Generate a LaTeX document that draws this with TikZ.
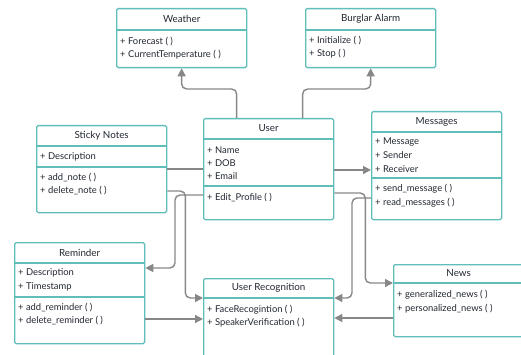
\documentclass[tikz,border=0pt]{standalone}
\usepackage{fontspec}
\setmainfont{Lato}
\usetikzlibrary{arrows.meta}
\definecolor{boxline}{RGB}{96,190,186}
\definecolor{wire}{RGB}{135,135,135}
\definecolor{ink}{RGB}{35,40,50}

\begin{document}
\begin{tikzpicture}[x=1pt,y=-1pt,
    cls/.style={draw=boxline, line width=1.3pt, rounded corners=1.5pt, fill=white, minimum width=130pt, anchor=north west, inner sep=0pt},
    sep/.style={draw=boxline, line width=1.3pt},
    ttl/.style={text=ink, inner sep=0pt, font=\fontsize{9.8}{11}\selectfont},
    mem/.style={anchor=west, inner sep=0pt, text=ink, font=\fontsize{9.4}{11}\selectfont},
    conn/.style={draw=wire, line width=1.4pt, rounded corners=5pt, -{Triangle[length=8pt,width=8pt]}},
    link/.style={draw=wire, line width=1.4pt}]
    \clip (0,0) rectangle (521,355);

    % classes
    \node[cls, minimum height=59pt] (weather) at (116,8) {};
    \node[ttl] (weathert) at ([yshift=-11pt]weather.north) {Weather};
    \draw[sep] ([yshift=-22pt]weather.north west) -- ([yshift=-22pt]weather.north east);
    \node[mem] (wfore) at (120,42) {+ Forecast ( )};
    \node[mem] (wtemp) at (120,55) {+ CurrentTemperature ( )};

    \node[cls, minimum height=59pt] (alarm) at (305,8) {};
    \node[ttl] (alarmt) at ([yshift=-11pt]alarm.north) {Burglar Alarm};
    \draw[sep] ([yshift=-22pt]alarm.north west) -- ([yshift=-22pt]alarm.north east);
    \node[mem] (ainit) at (309,41) {+ Initialize ( )};
    \node[mem] (astop) at (309,54) {+ Stop ( )};

    \node[cls, minimum height=87pt] (sticky) at (36,125) {};
    \node[ttl] (stickyt) at ([yshift=-10.5pt]sticky.north) {Sticky Notes};
    \draw[sep] ([yshift=-21pt]sticky.north west) -- ([yshift=-21pt]sticky.north east);
    \draw[sep] ([yshift=-42pt]sticky.north west) -- ([yshift=-42pt]sticky.north east);
    \node[mem] (sdesc) at (40,157) {+ Description};
    \node[mem] (sadd) at (40,178) {+ add\_note ( )};
    \node[mem] (sdel) at (40,191) {+ delete\_note ( )};

    \node[cls, minimum height=101pt] (user) at (203,118) {};
    \node[ttl] (usert) at ([yshift=-10.5pt]user.north) {User};
    \draw[sep] ([yshift=-21pt]user.north west) -- ([yshift=-21pt]user.north east);
    \draw[sep] ([yshift=-68pt]user.north west) -- ([yshift=-68pt]user.north east);
    \node[mem] (uname) at (207,150) {+ Name};
    \node[mem] (udob) at (207,163) {+ DOB};
    \node[mem] (umail) at (207,176) {+ Email};
    \node[mem] (uedit) at (207,198) {+ Edit\_Profile ( )};

    \node[cls, minimum height=108pt] (msg) at (371,111) {};
    \node[ttl] (msgt) at ([yshift=-10.5pt]msg.north) {Messages};
    \draw[sep] ([yshift=-21pt]msg.north west) -- ([yshift=-21pt]msg.north east);
    \draw[sep] ([yshift=-67pt]msg.north west) -- ([yshift=-67pt]msg.north east);
    \node[mem] (mtext) at (375,142) {+ Message};
    \node[mem] (msend) at (375,155) {+ Sender};
    \node[mem] (mrecv) at (375,169) {+ Receiver};
    \node[mem] (msendm) at (375,189) {+ send\_message ( )};
    \node[mem] (mread) at (375,203) {+ read\_messages ( )};

    \node[cls, minimum height=101pt] (rem) at (14,242) {};
    \node[ttl] (remt) at ([yshift=-10.5pt]rem.north) {Reminder};
    \draw[sep] ([yshift=-21pt]rem.north west) -- ([yshift=-21pt]rem.north east);
    \draw[sep] ([yshift=-55pt]rem.north west) -- ([yshift=-55pt]rem.north east);
    \node[mem] (rdesc) at (18,273) {+ Description};
    \node[mem] (rtime) at (18,287) {+ Timestamp};
    \node[mem] (radd) at (18,308) {+ add\_reminder ( )};
    \node[mem] (rdel) at (18,321) {+ delete\_reminder ( )};

    \node[cls, minimum height=100pt] (urec) at (203,278) {};
    \node[ttl] (urect) at ([yshift=-10pt]urec.north) {User Recognition};
    \draw[sep] ([yshift=-20pt]urec.north west) -- ([yshift=-20pt]urec.north east);
    \node[mem] (uface) at (207,310) {+ FaceRecogintion ( )};
    \node[mem] (uspeak) at (207,323) {+ SpeakerVerification ( )};

    \node[cls, minimum height=72pt] (news) at (393,264) {};
    \node[ttl] (newst) at ([yshift=-9.5pt]news.north) {News};
    \draw[sep] ([yshift=-19pt]news.north west) -- ([yshift=-19pt]news.north east);
    \node[mem] (ngen) at (397,295) {+ generalized\_news ( )};
    \node[mem] (npers) at (397,309) {+ personalized\_news ( )};

    % connectors
    \draw[conn] ([xshift=-32pt]user.north) -- ++(0,-29) -| (weather.south);
    \draw[conn] ([xshift=34pt]user.north) -- ++(0,-29) -| (alarm.south);
    \draw[conn] (user.east |- 0,170) -- (msg.west |- 0,170);
    \draw[link] (sticky.east |- 0,169) -- (user.west |- 0,169);
    \draw[conn] (sticky.east |- sdel) -- ++(18,0) |- (urec.west |- 0,298);
    \draw[conn] (user.west |- 0,195) -- ++(-28,0) |- (rem.east |- 0,268);
    \draw[conn] (rem.east |- 0,319) -- (urec.west |- 0,319);
    \draw[conn] (user.east |- 0,193) -- ++(31,0) |- (news.west |- 0,283);
    \draw[conn] (msg.west |- 0,198) -- ++(-19,0) |- (urec.east |- 0,298);
    \draw[conn] (news.west |- 0,318) -- (urec.east |- 0,318);
\end{tikzpicture}
\end{document}
